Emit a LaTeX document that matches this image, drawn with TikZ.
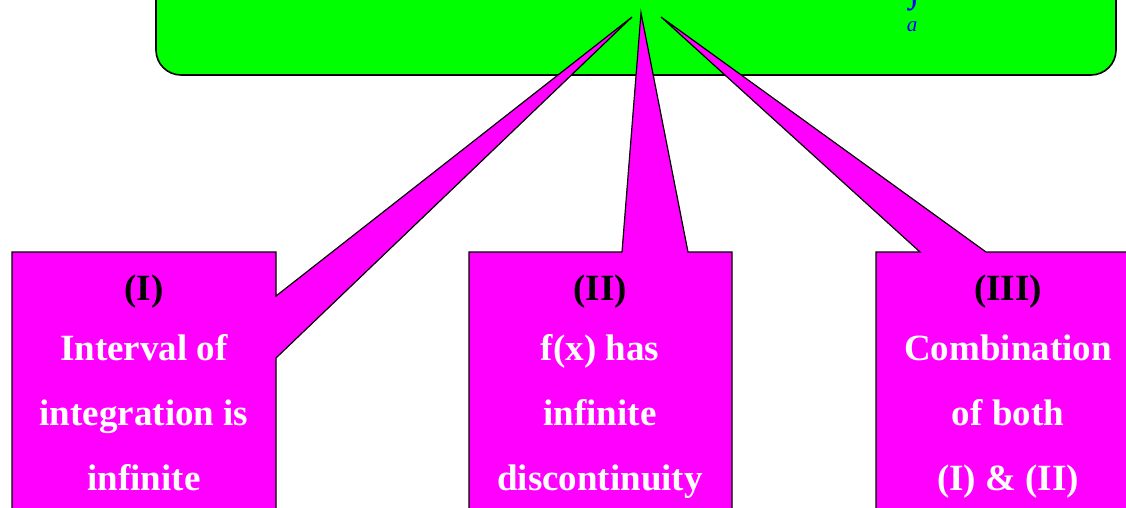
\documentclass[tikz,border=0pt]{standalone}
\usepackage{fontspec}
\setmainfont{Liberation Serif}
\definecolor{boxgreen}{RGB}{0,255,0}
\definecolor{callmag}{RGB}{255,0,255}
\definecolor{intblue}{RGB}{0,0,255}
\tikzset{
  greenbox/.style={fill=boxgreen, draw=black, line width=1.6pt, rounded corners=25pt},
  callbox/.style={fill=callmag, draw=black, line width=1.2pt, line join=miter},
  headtxt/.style={anchor=base, text=black, font=\fontsize{37}{40}\selectfont\bfseries, inner sep=0pt},
  bodytxt/.style={anchor=base, text=white, font=\fontsize{37}{40}\selectfont\bfseries, inner sep=0pt},
}
\begin{document}
\begin{tikzpicture}[x=1pt, y=-1pt]
\useasboundingbox (0,0) rectangle (1126,508);
\clip (0,0) rectangle (1126,508);
% green title box (cut at the top)
\draw[greenbox] (156,-120) rectangle (1116,75);
\node[anchor=south, text=intblue, inner sep=0pt, font=\fontsize{40}{40}\selectfont\bfseries] (int) at (915,11) {∫};
\node[anchor=base, text=intblue, inner sep=0pt, font=\fontsize{21}{21}\selectfont\itshape] (lowa) at (912,32) {a};
% tips
\coordinate (tipL) at (632,17);
\coordinate (tipM) at (641,13);
\coordinate (tipR) at (661,17);
% callouts
\draw[callbox] (12,252) -- (276,252) -- (276,296) -- (tipL) -- (276,358) -- (276,530) -- (12,530) -- cycle;
\draw[callbox] (469,252) -- (622,252) -- (tipM) -- (688,252) -- (732,252) -- (732,530) -- (469,530) -- cycle;
\draw[callbox] (876,252) -- (920,252) -- (tipR) -- (986,252) -- (1140,252) -- (1140,530) -- (876,530) -- cycle;
% texts
\node[headtxt] (h1) at (144,300) {(I)};
\node[bodytxt] (a1) at (144,360) {Interval of};
\node[bodytxt] (a2) at (144,425) {integration is};
\node[bodytxt] (a3) at (144,490) {infinite};
\node[headtxt] (h2) at (600,300) {(II)};
\node[bodytxt] (b1) at (600,360) {f(x) has};
\node[bodytxt] (b2) at (600,425) {infinite};
\node[bodytxt] (b3) at (600,490) {discontinuity};
\node[headtxt] (h3) at (1008,300) {(III)};
\node[bodytxt] (c1) at (1008,360) {Combination};
\node[bodytxt] (c2) at (1008,425) {of both};
\node[bodytxt] (c3) at (1008,490) {(I) \& (II)};
\end{tikzpicture}
\end{document}
